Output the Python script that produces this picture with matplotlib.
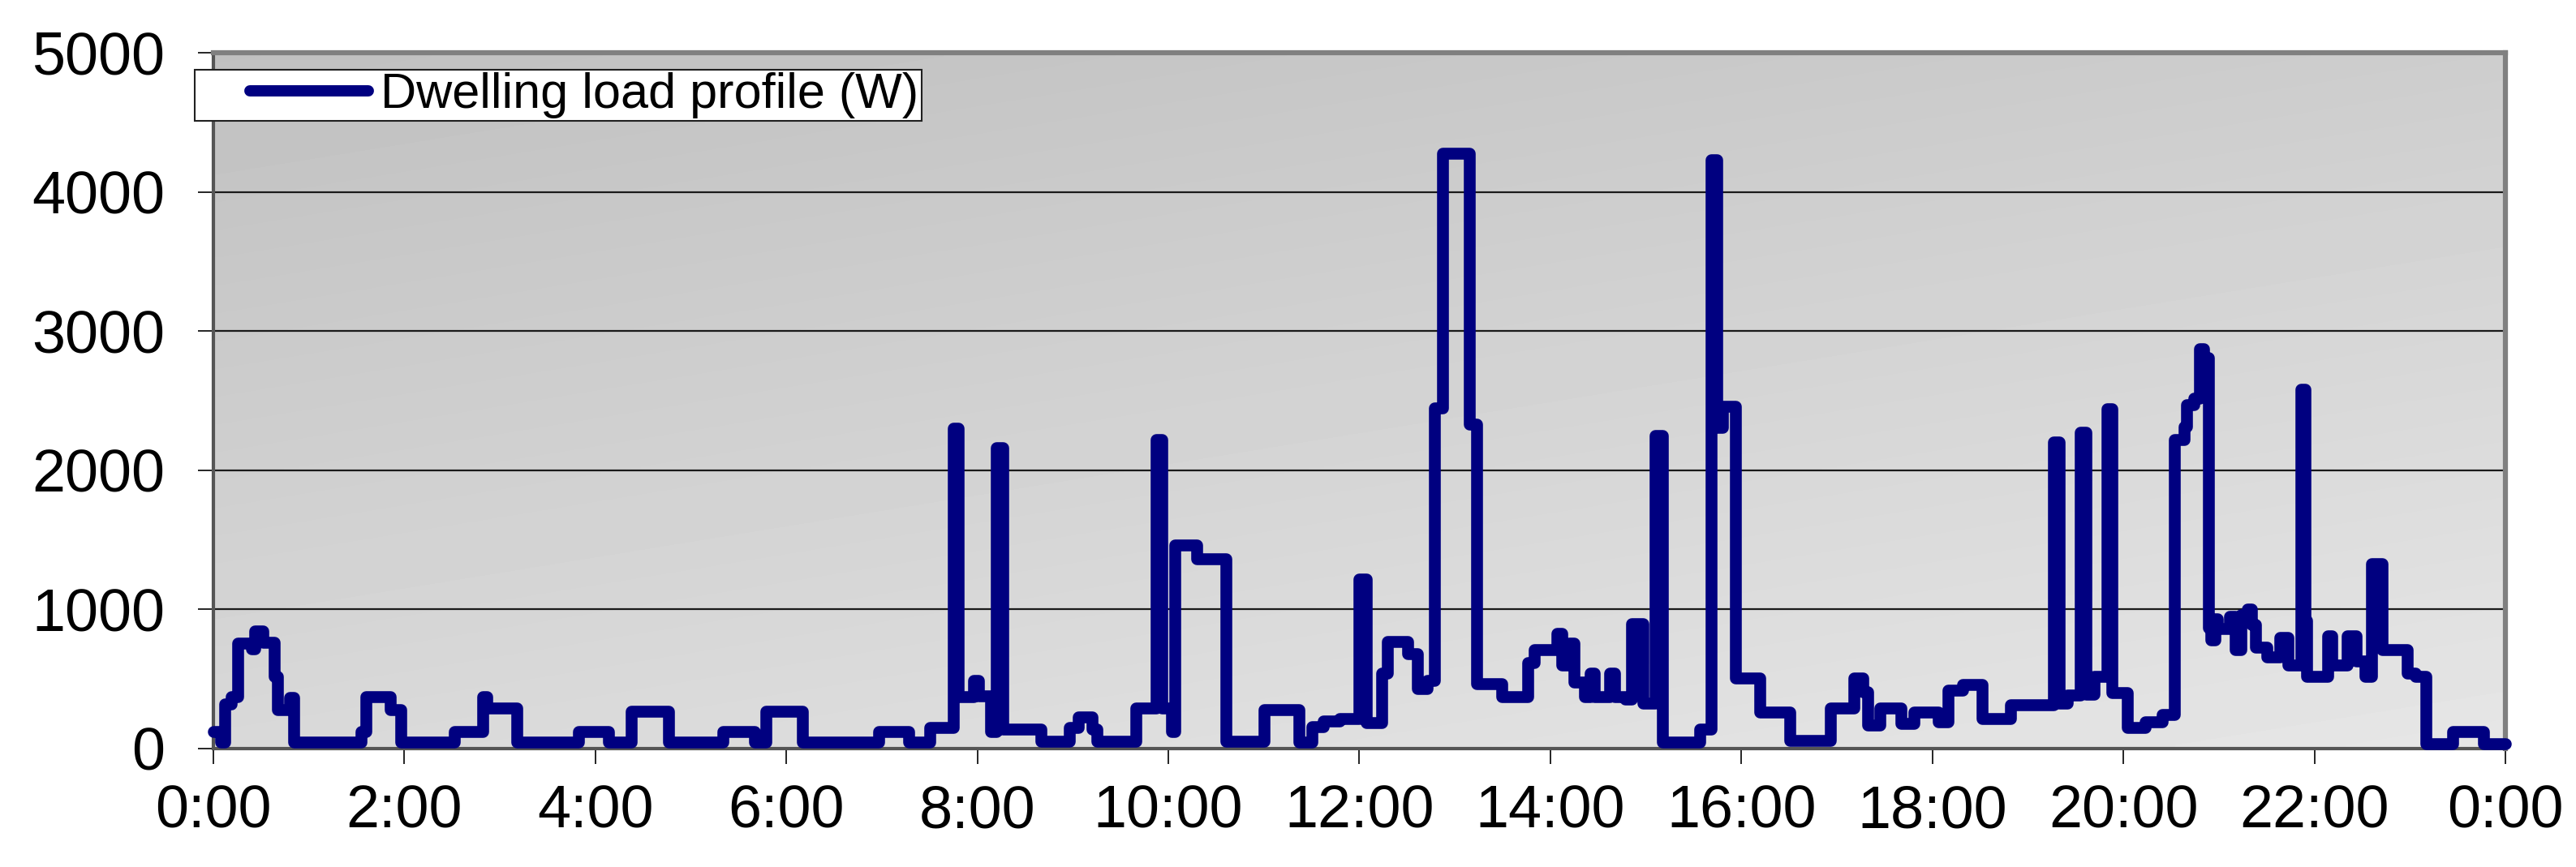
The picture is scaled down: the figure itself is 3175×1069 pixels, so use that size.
import matplotlib
matplotlib.use("Agg")
import matplotlib.pyplot as plt
from matplotlib.legend_handler import HandlerLine2D
import numpy as np

plt.rcParams['font.family'] = ['Liberation Sans', 'DejaVu Sans']

# step breakpoints of the load profile: hour of day, power (W)
hours = [0.00, 0.08, 0.12, 0.19, 0.26, 0.40, 0.43, 0.52, 0.64, 0.67, 0.80, 0.84,
         1.55, 1.60, 1.85, 1.96, 2.52, 2.82, 2.86, 3.18, 3.82, 4.14, 4.38, 4.77,
         5.34, 5.67, 5.79, 6.17, 6.97, 7.28, 7.50, 7.75, 7.80, 7.96, 8.01, 8.14,
         8.20, 8.27, 8.67, 8.96, 9.06, 9.20, 9.25, 9.66, 9.87, 9.93, 10.03, 10.07,
         10.30, 10.60, 11.00, 11.37, 11.50, 11.62, 11.79, 12.00, 12.07, 12.23, 12.29, 12.51,
         12.61, 12.71, 12.79, 12.87, 13.15, 13.23, 13.49, 13.76, 13.83, 14.07, 14.12, 14.20,
         14.25, 14.36, 14.42, 14.46, 14.62, 14.67, 14.78, 14.85, 14.97, 15.10, 15.17, 15.56,
         15.68, 15.74, 15.80, 15.94, 16.19, 16.51, 16.93, 17.18, 17.27, 17.32, 17.45, 17.67,
         17.81, 18.06, 18.16, 18.32, 18.52, 18.82, 19.27, 19.33, 19.41, 19.55, 19.61, 19.69,
         19.83, 19.88, 20.04, 20.23, 20.41, 20.53, 20.64, 20.66, 20.74, 20.80, 20.84, 20.89,
         20.92, 20.96, 20.98, 21.11, 21.17, 21.23, 21.30, 21.34, 21.38, 21.50, 21.64, 21.72,
         21.86, 21.90, 21.92, 22.14, 22.18, 22.34, 22.44, 22.53, 22.60, 22.71, 22.97, 23.06,
         23.17, 23.45, 23.77, 24.00]
load_w = [120, 45, 320, 375, 755, 715, 845, 765, 520, 280, 365, 45,
          120, 375, 280, 45, 120, 375, 290, 45, 120, 45, 270, 45,
          120, 45, 270, 45, 120, 45, 150, 2300, 375, 490, 380, 120,
          2160, 140, 55, 150, 230, 140, 55, 290, 2220, 290, 125, 1460,
          1365, 55, 280, 45, 155, 200, 215, 1220, 185, 540, 770, 680,
          430, 490, 2450, 4280, 2330, 465, 370, 615, 710, 830, 600, 755,
          480, 370, 540, 370, 540, 370, 355, 895, 325, 2250, 45, 140,
          4230, 2310, 2460, 505, 265, 60, 290, 505, 410, 170, 290, 180,
          265, 195, 420, 460, 215, 315, 2205, 325, 385, 2275, 390, 520,
          2440, 400, 150, 195, 245, 2220, 2315, 2470, 2520, 2870, 2810, 870,
          780, 930, 860, 950, 710, 960, 1000, 890, 730, 660, 800, 600,
          2580, 920, 520, 810, 600, 810, 630, 520, 1330, 710, 540, 520,
          35, 120, 35, 35]

tick_hours = list(range(0, 25, 2))
tick_labels = ["0:00", "2:00", "4:00", "6:00", "8:00", "10:00", "12:00",
               "14:00", "16:00", "18:00", "20:00", "22:00", "0:00"]
y_ticks = [0, 1000, 2000, 3000, 4000, 5000]

fig = plt.figure(figsize=(31.75, 10.69), dpi=100)
ax = fig.add_axes([0.0828, 0.1366, 0.8898, 0.8026])

# gray gradient plot area (darker top-left, lighter bottom-right)
gx, gy = np.meshgrid(np.linspace(0, 1, 200), np.linspace(0, 1, 100))
shade = 0.65 * gy + 0.35 * gx
ax.imshow(shade, extent=[0, 1, 0, 1], transform=ax.transAxes, aspect='auto',
          cmap='gray', vmin=-(0xC0 / 38.0), vmax=(255 - 0xC0) / 38.0,
          origin='upper', zorder=0, interpolation='bilinear')

line, = ax.step(hours, load_w, where='post', color='#000080', lw=10.5,
                solid_joinstyle='round', solid_capstyle='round', clip_on=False,
                label='Dwelling load profile (W)', zorder=3)

ax.set_xlim(0, 24)
ax.set_ylim(0, 5000)
ax.set_xticks(tick_hours)
ax.set_xticklabels(tick_labels)
ax.set_yticks(y_ticks)

ax.set_axisbelow(True)
ax.yaxis.grid(True, color='#1a1a1a', lw=1.6)
ax.xaxis.grid(False)

ax.tick_params(axis='both', direction='out', length=14, width=1.2, colors='black',
               labelsize=53)
ax.tick_params(axis='x', pad=17)
ax.tick_params(axis='y', pad=29)

for side in ['top', 'right']:
    ax.spines[side].set_color('#808080')
    ax.spines[side].set_linewidth(4.5)
for side in ['left', 'bottom']:
    ax.spines[side].set_color('#555555')
    ax.spines[side].set_linewidth(3)

leg = ax.legend(handles=[line], loc='upper left', bbox_to_anchor=(-0.008, 0.9755),
                borderaxespad=0, fontsize=44, frameon=True, fancybox=False,
                framealpha=1, edgecolor='#202020', borderpad=0.05,
                handlelength=3.45, handletextpad=0.25,
                handler_map={line: HandlerLine2D(xpad=1.05)})
leg.get_frame().set_linewidth(1.5)
leg.legend_handles[0].set_linewidth(10)
leg.legend_handles[0].set_drawstyle('default')

fig.savefig('out.png', dpi=100)
